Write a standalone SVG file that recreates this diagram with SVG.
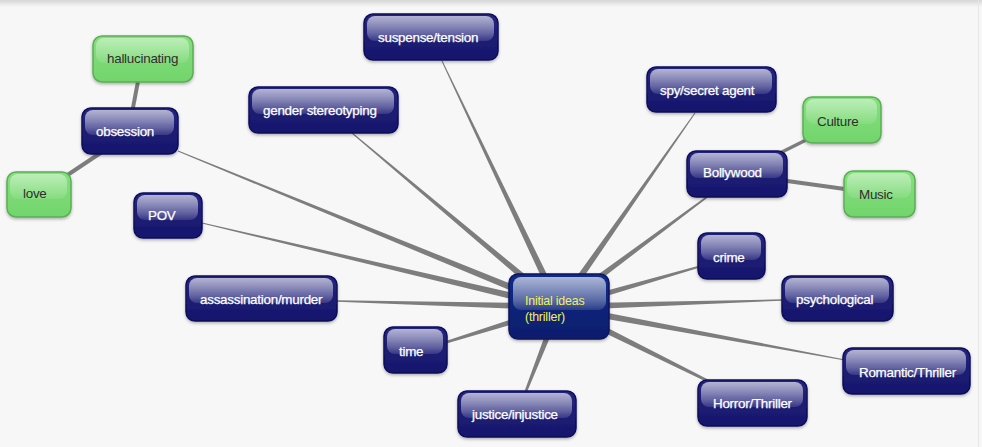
<svg xmlns="http://www.w3.org/2000/svg" width="982" height="447" viewBox="0 0 982 447">
<defs>
<linearGradient id="topfade" x1="0" y1="0" x2="0" y2="1">
<stop offset="0" stop-color="#d6d6d6"/>
<stop offset="1" stop-color="#f7f7f7"/>
</linearGradient>
<linearGradient id="blueBody" x1="0" y1="0" x2="0" y2="1">
<stop offset="0" stop-color="#24247f"/>
<stop offset="1" stop-color="#16166c"/>
</linearGradient>
<linearGradient id="centerBody" x1="0" y1="0" x2="0" y2="1">
<stop offset="0" stop-color="#0b2c88"/>
<stop offset="1" stop-color="#0a1d6c"/>
</linearGradient>
<linearGradient id="greenBody" x1="0" y1="0" x2="0" y2="1">
<stop offset="0" stop-color="#86e07f"/>
<stop offset="1" stop-color="#72d46c"/>
</linearGradient>
<linearGradient id="gloss" x1="0" y1="0" x2="0" y2="1">
<stop offset="0" stop-color="#ffffff" stop-opacity="0.66"/>
<stop offset="0.7" stop-color="#ffffff" stop-opacity="0.32"/>
<stop offset="1" stop-color="#ffffff" stop-opacity="0.12"/>
</linearGradient>
<linearGradient id="glossGreen" x1="0" y1="0" x2="0" y2="1">
<stop offset="0" stop-color="#ffffff" stop-opacity="0.45"/>
<stop offset="1" stop-color="#ffffff" stop-opacity="0.08"/>
</linearGradient>
<filter id="shadow" x="-10%" y="-10%" width="120%" height="130%">
<feDropShadow dx="0" dy="1.5" stdDeviation="1.5" flood-color="#000000" flood-opacity="0.3"/>
</filter>
</defs>
<style>
.blue .body{fill:url(#blueBody);stroke:#0f0f5c;stroke-width:1.5;filter:url(#shadow)}
.center .body{fill:url(#centerBody);stroke:#0a1560;stroke-width:1.5;filter:url(#shadow)}
.green .body{fill:url(#greenBody);stroke:#5cae56;stroke-width:1.5;filter:url(#shadow)}
.blue .gl,.center .gl{fill:url(#gloss)}
.green .gl{fill:url(#glossGreen)}
text{font-family:"Liberation Sans",Arial,sans-serif;font-size:13.4px;letter-spacing:-0.25px}
.blue text{fill:#ffffff;stroke:#ffffff;stroke-width:0.25}
.center text{fill:#f2f25c;font-size:12.4px;letter-spacing:-0.2px}
.green text{fill:#2e2e2e}
.edge{fill:#7d7d7d}
.sub{stroke:#7d7d7d;stroke-width:4;stroke-linecap:butt}
</style>
<rect x="0" y="0" width="982" height="447" fill="#f7f7f7"/>
<rect x="0" y="0" width="982" height="7" fill="url(#topfade)"/>
<line x1="978.5" y1="0" x2="978.5" y2="447" stroke="#e6e6e6" stroke-width="1"/>

<g id="connectors">
<polygon class="edge" points="441.55,61.21 555.84,308.5 562.16,305.5 442.45,60.79"/>
<polygon class="edge" points="694.59,112.71 556.13,304.99 561.87,309.01 695.41,113.29"/>
<polygon class="edge" points="351.68,133.38 556.75,309.68 561.25,304.32 352.32,132.62"/>
<polygon class="edge" points="177.81,151.46 557.67,310.24 560.33,303.76 178.19,150.54"/>
<polygon class="edge" points="201.89,223.49 558.2,310.41 559.8,303.59 202.11,222.51"/>
<polygon class="edge" points="336.98,301.8 558.91,310.5 559.09,303.5 337.02,300.2"/>
<polygon class="edge" points="447.36,343.15 560.04,310.34 557.96,303.66 446.64,340.85"/>
<polygon class="edge" points="527.21,391.48 562.26,308.28 555.74,305.72 524.79,390.52"/>
<polygon class="edge" points="697.72,266.04 558.03,303.64 559.97,310.36 698.28,267.96"/>
<polygon class="edge" points="781.98,299.3 558.89,303.5 559.11,310.5 782.02,300.7"/>
<polygon class="edge" points="845.11,359.41 559.64,303.56 558.36,310.44 844.89,360.59"/>
<polygon class="edge" points="708.58,379.84 560.56,303.87 557.44,310.13 707.42,382.16"/>
<polygon class="edge" points="706.52,196.36 556.91,304.19 561.09,309.81 707.48,197.64"/>
<line class="sub" x1="139" y1="76" x2="132" y2="113"/>
<line class="sub" x1="105" y1="150" x2="60" y2="180"/>
<line class="sub" x1="776" y1="155" x2="812" y2="137" style="stroke-width:3.5"/>
<line class="sub" x1="780" y1="180" x2="852" y2="190"/>
</g>

<g id="node-suspense" class="blue">
<rect class="body" x="364" y="14" width="134" height="46" rx="9"/>
<rect class="gl" x="367" y="16" width="127" height="25" rx="8"/>
<text x="378" y="42">suspense/tension</text>
</g>
<g id="node-spy" class="blue">
<rect class="body" x="647" y="67" width="129" height="45" rx="9"/>
<rect class="gl" x="650" y="69" width="122" height="25" rx="8"/>
<text x="660" y="95">spy/secret agent</text>
</g>
<g id="node-gender" class="blue">
<rect class="body" x="249" y="87" width="149" height="46" rx="9"/>
<rect class="gl" x="252" y="89" width="142" height="25" rx="8"/>
<text x="263" y="115">gender stereotyping</text>
</g>
<g id="node-obsession" class="blue">
<rect class="body" x="82" y="108" width="96" height="46" rx="9"/>
<rect class="gl" x="85" y="110" width="89" height="25" rx="8"/>
<text x="96" y="136">obsession</text>
</g>
<g id="node-hallucinating" class="green">
<rect class="body" x="93" y="36" width="100" height="46" rx="9"/>
<rect class="gl" x="96" y="38" width="93" height="25" rx="8"/>
<text x="107" y="63">hallucinating</text>
</g>
<g id="node-love" class="green">
<rect class="body" x="7" y="172" width="64" height="45" rx="9"/>
<rect class="gl" x="10" y="174" width="57" height="25" rx="8"/>
<text x="23" y="198">love</text>
</g>
<g id="node-pov" class="blue">
<rect class="body" x="134" y="193" width="68" height="45" rx="9"/>
<rect class="gl" x="137" y="195" width="61" height="25" rx="8"/>
<text x="148" y="220">POV</text>
</g>
<g id="node-assassination" class="blue">
<rect class="body" x="186" y="276" width="151" height="45" rx="9"/>
<rect class="gl" x="189" y="278" width="144" height="25" rx="8"/>
<text x="200" y="304">assassination/murder</text>
</g>
<g id="node-time" class="blue">
<rect class="body" x="384" y="327" width="63" height="46" rx="9"/>
<rect class="gl" x="387" y="329" width="56" height="25" rx="8"/>
<text x="399" y="356">time</text>
</g>
<g id="node-justice" class="blue">
<rect class="body" x="458" y="391" width="118" height="46" rx="9"/>
<rect class="gl" x="461" y="393" width="111" height="25" rx="8"/>
<text x="472" y="419">justice/injustice</text>
</g>
<g id="node-crime" class="blue">
<rect class="body" x="698" y="233" width="67" height="46" rx="9"/>
<rect class="gl" x="701" y="235" width="60" height="25" rx="8"/>
<text x="713" y="262">crime</text>
</g>
<g id="node-psychological" class="blue">
<rect class="body" x="782" y="276" width="111" height="45" rx="9"/>
<rect class="gl" x="785" y="278" width="104" height="25" rx="8"/>
<text x="796" y="304">psychological</text>
</g>
<g id="node-romantic" class="blue">
<rect class="body" x="843" y="348" width="127" height="46" rx="9"/>
<rect class="gl" x="846" y="350" width="120" height="25" rx="8"/>
<text x="859" y="377">Romantic/Thriller</text>
</g>
<g id="node-horror" class="blue">
<rect class="body" x="698" y="380" width="109" height="46" rx="9"/>
<rect class="gl" x="701" y="382" width="102" height="25" rx="8"/>
<text x="713" y="408">Horror/Thriller</text>
</g>
<g id="node-bollywood" class="blue">
<rect class="body" x="687" y="151" width="100" height="46" rx="9"/>
<rect class="gl" x="690" y="153" width="93" height="25" rx="8"/>
<text x="703" y="177">Bollywood</text>
</g>
<g id="node-culture" class="green">
<rect class="body" x="803" y="97" width="78" height="46" rx="9"/>
<rect class="gl" x="806" y="99" width="71" height="25" rx="8"/>
<text x="817" y="126">Culture</text>
</g>
<g id="node-music" class="green">
<rect class="body" x="844" y="171" width="71" height="46" rx="9"/>
<rect class="gl" x="847" y="173" width="64" height="25" rx="8"/>
<text x="859" y="199">Music</text>
</g>
<g id="node-center" class="center">
<rect class="body" x="509" y="274" width="100" height="65" rx="9"/>
<rect class="gl" x="513" y="277" width="93" height="33" rx="8"/>
<text x="525" y="305">Initial ideas</text>
<text x="525" y="321">(thriller)</text>
</g>
</svg>
